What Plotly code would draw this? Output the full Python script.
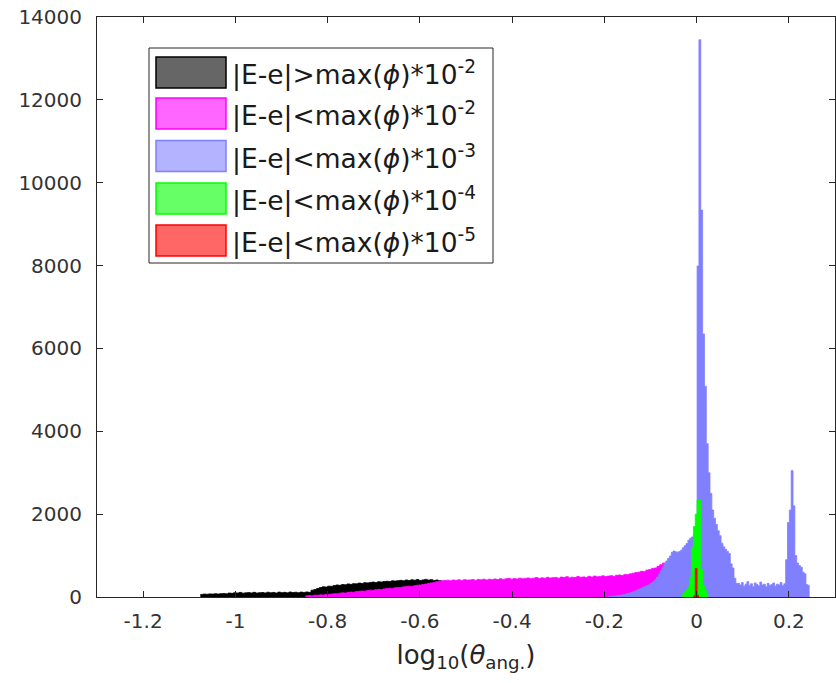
import plotly.graph_objects as go

# ---------------- data (histogram counts) ----------------
# black / magenta histograms: bin width 0.006
bm_bin_width = 0.006
black_start = -1.076
black_counts = [
    62, 70, 66, 75, 70, 78, 72, 80, 85, 76,
    95, 88, 102, 96, 110, 92, 100, 106, 98, 112,
    95, 104, 108, 99, 115, 102, 110, 96, 118, 105,
    112, 100, 120, 108, 115, 104, 118, 110, 122, 112,
    165, 180, 205, 230, 245, 240, 262, 258, 275, 290,
    282, 300, 295, 315, 305, 322, 318, 335, 328, 345,
    340, 352, 360, 348, 368, 362, 375, 380, 372, 390,
    385, 395, 402, 390, 410, 398, 415, 405, 420, 400,
    412, 425, 408, 418, 400, 410, 395, 380,
]
magenta_start = -0.848
magenta_counts = [
    28, 35, 30, 45, 40, 52, 48, 60, 66, 72,
    80, 76, 92, 100, 95, 112, 120, 115, 130, 138,
    145, 140, 158, 165, 160, 178, 185, 180, 196, 205,
    212, 208, 225, 232, 228, 245, 252, 260, 255, 272,
    285, 290, 300, 312, 325, 340, 352, 368, 380, 392,
    398, 405, 392, 410, 402, 415, 400, 418, 408, 412,
    420, 405, 425, 415, 430, 412, 428, 418, 435, 422,
    440, 425, 438, 450, 430, 445, 435, 455, 440, 448,
    460, 442, 455, 470, 448, 462, 452, 475, 458, 466,
    472, 455, 480, 468, 490, 462, 478, 470, 495, 475,
    485, 470, 498, 480, 505, 488, 495, 510, 492, 505,
    515, 500, 525, 530, 518, 545, 540, 560, 575, 590,
    600, 620, 615, 650, 665, 690, 700, 740, 780, 820,
]
# blue / green / red histograms: bin width 0.004
bgr_bin_width = 0.004
blue_start = -0.191
blue_counts = [
    8, 12, 18, 22, 28, 35, 42, 50, 60, 70,
    82, 95, 110, 128, 145, 165, 185, 200, 225, 245,
    265, 285, 310, 340, 375, 420, 480, 550, 630, 720,
    800, 870, 930, 990, 1080, 1110, 1090, 1080, 1100, 1130,
    1190, 1240, 1290, 1370, 1420, 1450, 1500, 1600, 7990, 13450,
    9340, 6350, 5090, 3700, 3000, 2500, 2100, 1900, 1750, 1600,
    1480, 1300, 1210, 1150, 1100, 1050, 800, 700, 450, 330,
    330, 290, 350, 260, 310, 370, 280, 320, 250, 340,
    300, 270, 360, 290, 310, 250, 330, 280, 300, 340,
    260, 310, 290, 350, 270, 320,
    900, 1800, 2100, 3050, 2200, 1000, 820, 760, 720, 600,
    560, 300, 280,
]
green_start = -0.031
green_counts = [60, 110, 160, 240, 480, 1200, 1700, 2000, 2340, 2340, 650, 280, 160, 70]
red_start = -0.007
red_counts = [30, 690, 40]

x_tick_vals = [-1.2, -1.0, -0.8, -0.6, -0.4, -0.2, 0.0, 0.2]
x_tick_text = ["-1.2", "-1", "-0.8", "-0.6", "-0.4", "-0.2", "0", "0.2"]
y_tick_vals = [0, 2000, 4000, 6000, 8000, 10000, 12000, 14000]
y_tick_text = ["0", "2000", "4000", "6000", "8000", "10000", "12000", "14000"]

series_labels = [
    "|E-e|&gt;max(<i>ϕ</i>)*10<sup>-2</sup>",
    "|E-e|&lt;max(<i>ϕ</i>)*10<sup>-2</sup>",
    "|E-e|&lt;max(<i>ϕ</i>)*10<sup>-3</sup>",
    "|E-e|&lt;max(<i>ϕ</i>)*10<sup>-4</sup>",
    "|E-e|&lt;max(<i>ϕ</i>)*10<sup>-5</sup>",
]

# ---------------- styles ----------------
bar_colors = ["#000000", "#ff00ff", "#8080ff", "#00ff00", "#ff0000"]
legend_fill = ["#666666", "#ff66ff", "#b3b3ff", "#66ff66", "#ff6666"]
axis_color = "#262626"

hists = [
    (black_start, bm_bin_width, black_counts),
    (magenta_start, bm_bin_width, magenta_counts),
    (blue_start, bgr_bin_width, blue_counts),
    (green_start, bgr_bin_width, green_counts),
    (red_start, bgr_bin_width, red_counts),
]

fig = go.Figure()
for (start, w, counts), col, lab in zip(hists, bar_colors, series_labels):
    # histogram drawn as a filled stair outline: left bin edges + final right edge
    edges = [start + w * i for i in range(len(counts) + 1)]
    heights = list(counts) + [counts[-1]]
    fig.add_trace(go.Scatter(
        x=edges, y=heights, name=lab, mode="lines",
        line=dict(shape="hv", color=col, width=0.8),
        fill="tozeroy", fillcolor=col,
        showlegend=False, hoverinfo="skip",
    ))

# ---------------- manual legend (MATLAB style) ----------------
px_left, px_right, px_top, px_bottom = 97, 835, 17, 597
pw, ph = px_right - px_left, px_bottom - px_top


def px_x(p):
    return (p - px_left) / pw


def px_y(p):
    return (px_bottom - p) / ph


shapes = [dict(type="rect", xref="paper", yref="paper",
               x0=px_x(149), x1=px_x(493), y0=px_y(263), y1=px_y(48),
               line=dict(color=axis_color, width=1), fillcolor="white", layer="above")]
annotations = []
row_centers = [72.5, 113.5, 156, 198.5, 240.5]
for rc, fcol, ecol, lab in zip(row_centers, legend_fill, bar_colors, series_labels):
    shapes.append(dict(type="rect", xref="paper", yref="paper",
                       x0=px_x(156), x1=px_x(226), y0=px_y(rc + 15.5), y1=px_y(rc - 15.5),
                       line=dict(color=ecol, width=1.5), fillcolor=fcol, layer="above"))
    annotations.append(dict(xref="paper", yref="paper", x=px_x(230), y=px_y(rc + 1),
                            xanchor="left", yanchor="middle", text=lab, showarrow=False,
                            font=dict(size=26.5, color="#1a1a1a", family="DejaVu Sans")))

fig.update_layout(
    width=836, height=683,
    margin=dict(l=px_left, r=836 - px_right, t=px_top, b=683 - px_bottom),
    plot_bgcolor="white", paper_bgcolor="white",
    font=dict(family="DejaVu Sans", color=axis_color),
    shapes=shapes, annotations=annotations,
    showlegend=False,
)
fig.update_xaxes(
    range=[-1.3, 0.3], tickvals=x_tick_vals, ticktext=x_tick_text,
    ticks="inside", ticklen=6, tickcolor=axis_color, tickwidth=1,
    showline=True, linecolor=axis_color, linewidth=1, mirror="ticks",
    showgrid=False, zeroline=False, tickfont=dict(size=20, color="#333333"),
    ticklabelstandoff=6,
    title=dict(text="log<sub>10</sub>(<i>θ</i><sub>ang.</sub>)", font=dict(size=26, color="#262626"), standoff=13),
)
fig.update_yaxes(
    range=[0, 14000], tickvals=y_tick_vals, ticktext=y_tick_text,
    ticks="inside", ticklen=6, tickcolor=axis_color, tickwidth=1,
    showline=True, linecolor=axis_color, linewidth=1, mirror="ticks",
    showgrid=False, zeroline=False, tickfont=dict(size=20, color="#333333"),
    ticklabelstandoff=10,
)

fig.write_html("out.html")
